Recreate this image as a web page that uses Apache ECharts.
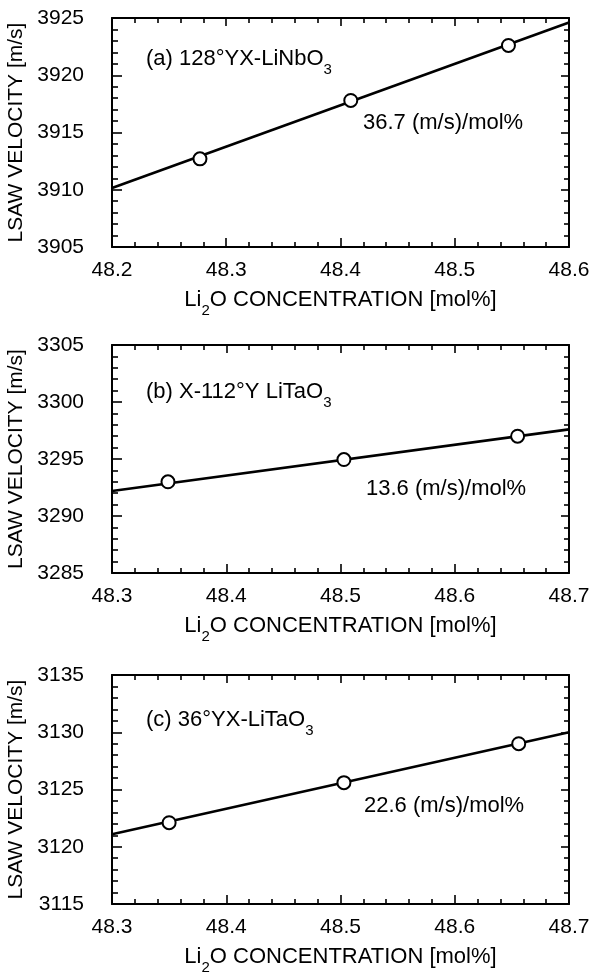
<!DOCTYPE html>
<html>
<head>
<meta charset="utf-8">
<script src="https://cdn.jsdelivr.net/npm/echarts@6/dist/echarts.min.js"></script>
<style>
  html, body { margin: 0; padding: 0; background: #fff; }
  #chart { width: 593px; height: 973px; }
</style>
</head>
<body>
<div id="chart"></div>
<script>
// 三个面板的数据 (a) LiNbO3, (b) X-112Y LiTaO3, (c) 36YX LiTaO3
var panelNames = ['(a) 128°YX-LiNbO{sub|3}', '(b) X-112°Y LiTaO{sub|3}', '(c) 36°YX-LiTaO{sub|3}'];
var slopeNames = ['36.7 (m/s)/mol%', '13.6 (m/s)/mol%', '22.6 (m/s)/mol%'];

var concA = [48.277, 48.409, 48.547];
var velA = [3912.7, 3917.8, 3922.6];
var fitXA = [48.2, 48.6];
var fitYA = [3910.15, 3924.6];

var concB = [48.349, 48.503, 48.655];
var velB = [3293.0, 3294.95, 3297.0];
var fitXB = [48.3, 48.7];
var fitYB = [3292.2, 3297.6];

var concC = [48.35, 48.503, 48.656];
var velC = [3122.1, 3125.6, 3129.0];
var fitXC = [48.3, 48.7];
var fitYC = [3121.1, 3130.0];

var xMins = [48.2, 48.3, 48.3];
var xMaxs = [48.6, 48.7, 48.7];
var yMins = [3905, 3285, 3115];
var yMaxs = [3925, 3305, 3135];

var FONT = '"Liberation Sans", Arial, Helvetica, sans-serif';

var conc = [concA, concB, concC];
var vel = [velA, velB, velC];
var fitX = [fitXA, fitXB, fitXC];
var fitY = [fitYA, fitYB, fitYC];

// 每个面板的位置
var gridTops = [18, 345, 675];
var gridHeights = [229, 228, 229];
var panelTextY = [59, 392, 720];
var slopeTextY = [124, 490, 807];
var slopeTextX = [363, 366, 364];

function pairs(xs, ys) {
    var out = [];
    for (var i = 0; i < xs.length; i++) out.push([xs[i], ys[i]]);
    return out;
}

var grids = [], xAxes = [], yAxes = [], series = [], graphics = [];

for (var p = 0; p < 3; p++) {
    grids.push({
        left: 112, top: gridTops[p], width: 457, height: gridHeights[p],
        outerBoundsMode: 'none', containLabel: false
    });

    var tickLine = { color: '#000', width: 1.6 };
    var axisLine = { show: true, onZero: false, lineStyle: { color: '#000', width: 2 } };

    // 下方x轴
    xAxes.push({
        type: 'value', gridIndex: p, position: 'bottom',
        min: xMins[p], max: xMaxs[p], interval: 0.1,
        axisLine: axisLine,
        axisTick: { inside: true, length: 9, lineStyle: tickLine },
        minorTick: { show: true, splitNumber: 5, length: 5, lineStyle: tickLine },
        splitLine: { show: false },
        axisLabel: {
            margin: 13, fontSize: 21, fontFamily: FONT, color: '#000',
            formatter: function (v) { return v.toFixed(1); }
        },
        name: 'Li{sub|2}O CONCENTRATION [mol%]',
        nameLocation: 'middle', nameGap: 31,
        nameTextStyle: {
            fontSize: 22, fontFamily: FONT, color: '#000', lineHeight: 36,
            rich: { sub: { fontSize: 15, fontFamily: FONT, color: '#000', lineHeight: 18, verticalAlign: 'bottom' } }
        }
    });
    // 上方x轴（只要刻度）
    xAxes.push({
        type: 'value', gridIndex: p, position: 'top',
        min: xMins[p], max: xMaxs[p], interval: 0.1,
        axisLine: axisLine,
        axisTick: { inside: true, length: 8, lineStyle: tickLine },
        minorTick: { show: true, splitNumber: 5, length: 5, lineStyle: tickLine },
        splitLine: { show: false },
        axisLabel: { show: false }
    });

    // 左侧y轴
    yAxes.push({
        type: 'value', gridIndex: p, position: 'left',
        min: yMins[p], max: yMaxs[p], interval: 5,
        axisLine: axisLine,
        axisTick: { inside: true, length: 10, lineStyle: tickLine },
        minorTick: { show: true, splitNumber: 5, length: 6, lineStyle: tickLine },
        splitLine: { show: false },
        axisLabel: {
            margin: 28, fontSize: 21, fontFamily: FONT, color: '#000',
            formatter: function (v) { return String(v); }
        },
        name: 'LSAW VELOCITY [m/s]',
        nameLocation: 'middle', nameGap: 79,
        nameTextStyle: { fontSize: 21, fontFamily: FONT, color: '#000' }
    });
    // 右侧y轴
    yAxes.push({
        type: 'value', gridIndex: p, position: 'right',
        min: yMins[p], max: yMaxs[p], interval: 5,
        axisLine: axisLine,
        axisTick: { inside: true, length: 8, lineStyle: tickLine },
        minorTick: { show: true, splitNumber: 5, length: 5, lineStyle: tickLine },
        splitLine: { show: false },
        axisLabel: { show: false }
    });

    // 拟合直线
    series.push({
        type: 'line',
        xAxisIndex: p * 2, yAxisIndex: p * 2,
        data: pairs(fitX[p], fitY[p]),
        showSymbol: false,
        lineStyle: { color: '#000', width: 2.6 },
        z: 2
    });
    // 测量点
    series.push({
        type: 'scatter',
        xAxisIndex: p * 2, yAxisIndex: p * 2,
        data: pairs(conc[p], vel[p]),
        symbol: 'circle', symbolSize: 13,
        itemStyle: { color: '#fff', borderColor: '#000', borderWidth: 2, opacity: 1 },
        z: 3
    });

    graphics.push({
        type: 'text', left: 146, top: panelTextY[p] - 18,
        style: {
            text: panelNames[p], font: '22px ' + FONT, fill: '#000',
            lineHeight: 36,
            rich: { sub: { fontSize: 15, fontFamily: FONT, fill: '#000', lineHeight: 18, verticalAlign: 'bottom' } }
        }
    });
    graphics.push({
        type: 'text', left: slopeTextX[p], top: slopeTextY[p] - 12,
        style: { text: slopeNames[p], font: '22px ' + FONT, fill: '#000' }
    });
}

var myChart = echarts.init(document.getElementById('chart'));
myChart.setOption({
    animation: false,
    backgroundColor: '#fff',
    grid: grids,
    xAxis: xAxes,
    yAxis: yAxes,
    series: series,
    graphic: graphics
});
</script>
</body>
</html>
